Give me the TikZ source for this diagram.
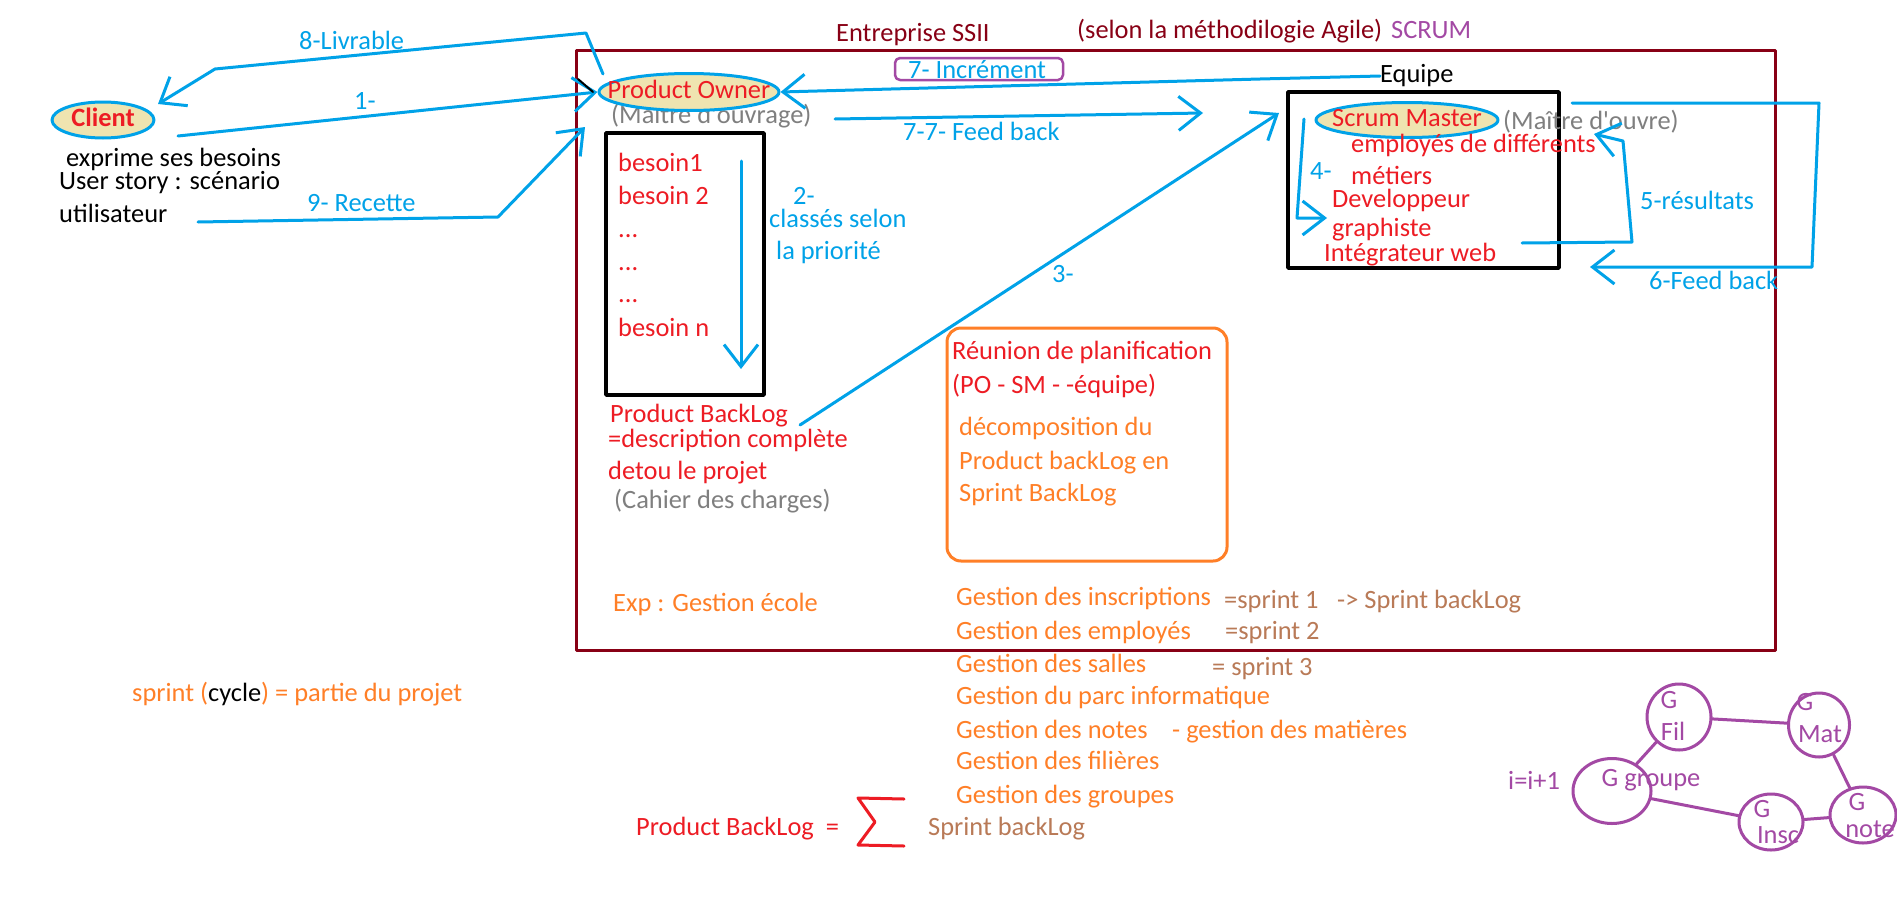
\documentclass[tikz,border=0pt]{standalone}
\usepackage{fontspec}
\setmainfont{Carlito}[Ligatures=TeXOff]
\usetikzlibrary{arrows.meta,shapes.geometric}
\definecolor{pblue}{HTML}{00A2E8}
\definecolor{pred}{HTML}{ED1C24}
\definecolor{dred}{HTML}{880015}
\definecolor{ppurple}{HTML}{A349A4}
\definecolor{porange}{HTML}{FF7F27}
\definecolor{pbrown}{HTML}{B97A57}
\definecolor{pgrey}{HTML}{7F7F7F}
\definecolor{beige}{HTML}{EFE4B0}
\newcommand\fs{\fontsize{26.4}{31}\selectfont}
\begin{document}
\begin{tikzpicture}[x=1pt,y=-1pt,line join=round,line cap=round,
  t/.style={inner sep=0pt,anchor=west,text height=18pt,text depth=5pt,font=\fs},
  tc/.style={inner sep=0pt,text height=18pt,text depth=5pt,font=\fs},
  ell/.style={ellipse,draw=pblue,fill=beige,line width=3pt,inner sep=0pt},
  arr/.style={draw=pblue,line width=3pt,-{Straight Barb[length=22pt,width=34pt]}},
  boxnode/.style={draw=black,line width=3.5pt,inner sep=0pt},
  gc/.style={ellipse,draw=ppurple,line width=3pt,inner sep=0pt},
  gt/.style={inner sep=0pt,text height=18pt,text depth=5pt,font=\fs,text=ppurple},
  ge/.style={draw=ppurple,line width=3pt}]
\fill[white] (0,0) rectangle (1897,918);
\useasboundingbox (0,0) rectangle (1897,918);

% big company frame
\node[draw=dred,line width=3pt,minimum width=1199pt,minimum height=600pt,inner sep=0pt] (ssii) at (1175.5,350) {};
\node[t,text=dred] (ent) at (836,35) {Entreprise SSII};
\node[t,text=dred] (selon) at (1077,32) {(selon la méthodilogie Agile)};
\node[t,text=ppurple] (scrum) at (1391,32) {SCRUM};

% client
\node[ell,minimum width=102pt,minimum height=36pt] (client) at (103,120) {};
\node[tc,text=pred] (clientt) at (client.center) {\bfseries Client};
\node[t] (expr) at (66,160) {exprime ses besoins};
\node[t] (us) at (59,183) {User story : scénario};
\node[t] (util) at (59,216) {utilisateur};

% product owner
\node[t,text=pgrey] (moa) at (611,117) {(Maître d'ouvrage)};
\node[ell,minimum width=180pt,minimum height=37pt] (po) at (689,92) {};
\node[tc,text=pred] (pot) at (po.center) {Product Owner};

% product backlog box
\node[boxnode,minimum width=158pt,minimum height=262pt] (pb) at (685,264) {};
\node[t,text=pred] (b1) at (618,165) {besoin1};
\node[t,text=pred] (b2) at (618,198) {besoin 2};
\node[t,text=pred] (d1) at (618,231) {...};
\node[t,text=pred] (d2) at (618,264) {...};
\node[t,text=pred] (d3) at (618,296) {...};
\node[t,text=pred] (bn) at (618,330) {besoin n};
\node[t,text=pred] (pbl) at (610,416) {Product BackLog};
\node[t,text=pred] (desc) at (608,441) {=description complète};
\node[t,text=pred] (detou) at (608,473) {detou le projet};
\node[t,text=pgrey] (cdc) at (614,502) {(Cahier des charges)};
\node[t,text=pblue] (l2) at (793,198) {2-};
\node[t,text=pblue] (cl) at (769,221) {classés selon};
\node[t,text=pblue] (prio) at (776,253) {la priorité};

% increment box and team
\node[draw=ppurple,line width=2.5pt,rounded corners=5pt,minimum width=168pt,minimum height=22pt,inner sep=0pt] (incr) at (979,69) {};
\node[t,text=pblue] (incrt) at (908,72) {7- Incrément};
\node[t] (equipe) at (1380,76) {Equipe};
\node[t,text=pblue] (fb77) at (903,134) {7-7- Feed back};
\node[t,text=pblue] (l3) at (1052,276) {3-};

\node[boxnode,minimum width=271pt,minimum height=176pt] (team) at (1423.5,180) {};
\node[t,text=pgrey] (moe) at (1503,123) {(Maître d'ouvre)};
\node[ell,minimum width=182pt,minimum height=35pt] (sm) at (1407,120) {};
\node[tc,text=pred] (smt) at (sm.center) {Scrum Master};
\node[t,text=pred] (emp) at (1351,146) {employés de différents};
\node[t,text=pred] (met) at (1351,178) {métiers};
\node[t,text=pred] (dev) at (1332,201) {Developpeur};
\node[t,text=pred] (gra) at (1332,230) {graphiste};
\node[t,text=pred] (integ) at (1324,255) {Intégrateur web};
\node[t,text=pblue] (l4) at (1310,173) {4-};
\node[t,text=pblue] (l5) at (1640,203) {5-résultats};
\node[t,text=pblue] (l6) at (1649,283) {6-Feed back};

% planning meeting
\node[draw=porange,line width=3pt,rounded corners=14pt,minimum width=280pt,minimum height=233pt,inner sep=0pt] (reunion) at (1087,444.5) {};
\node[t,text=pred] (r1) at (952,353) {Réunion de planification};
\node[t,text=pred] (r2) at (952,387) {(PO - SM - -équipe)};
\node[t,text=porange] (r3) at (959,429) {décomposition du};
\node[t,text=porange] (r4) at (959,463) {Product backLog en};
\node[t,text=porange] (r5) at (959,495) {Sprint BackLog};

% example
\node[t,text=porange] (exp) at (613,605) {Exp : Gestion école};
\node[t,text=porange] (g1) at (956,599) {Gestion des inscriptions};
\node[t,text=porange] (g2) at (956,633) {Gestion des employés};
\node[t,text=porange] (g3) at (956,666) {Gestion des salles};
\node[t,text=porange] (g4) at (956,698) {Gestion du parc informatique};
\node[t,text=porange] (g5) at (956,732) {Gestion des notes};
\node[t,text=porange] (g6) at (956,763) {Gestion des filières};
\node[t,text=porange] (g7) at (956,797) {Gestion des groupes};
\node[t,text=pbrown] (s1) at (1224,602) {=sprint 1};
\node[t,text=pbrown] (sb) at (1337,602) {-> Sprint backLog};
\node[t,text=pbrown] (s2) at (1225,633) {=sprint 2};
\node[t,text=pbrown] (s3) at (1212,669) {= sprint 3};
\node[t,text=porange] (gm) at (1172,732) {- gestion des matières};

\node[t,text=porange] (cyc) at (132,695) {sprint (\textcolor{black}{cycle}) = partie du projet};
\node[t,text=pred] (pbeq) at (636,829) {Product BackLog\ \ =};
\draw[pred,line width=3pt] (904,799) -- (858,798) -- (875,822) -- (858,845) -- (904,846);
\node[t,text=pbrown] (sbl) at (928,829) {Sprint backLog};

% connectors
\coordinate (c8s) at (603,74);
\coordinate (c8a) at (586,33);
\coordinate (c8b) at (215,69);
\coordinate (c8e) at (158,104);
\draw[arr] (c8s) -- (c8a) -- (c8b) -- (c8e);
\node[t,text=pblue] (l8) at (299,43) {8-Livrable};

\coordinate (c1s) at (178,136);
\draw[arr] (c1s) -- (po.west);
\node[t,text=pblue] (l1) at (354,103) {1-};
\draw[black,line width=2pt] (578,79) -- (593,92);

\coordinate (c9s) at (198,222);
\coordinate (c9a) at (498,217);
\coordinate (c9e) at (585,127);
\draw[arr] (c9s) -- (c9a) -- (c9e);
\node[t,text=pblue] (l9) at (307,205) {9- Recette};

\coordinate (c7a) at (1260,79);
\draw[arr] (equipe.west) -- (c7a) -- (po.east);

\coordinate (c77s) at (835,119);
\coordinate (c77e) at (1203,113);
\draw[arr] (c77s) -- (c77e);

\coordinate (c3s) at (800,425);
\coordinate (c3e) at (1279,113);
\draw[arr] (c3s) -- (c3e);

\coordinate (c2s) at (741,161);
\coordinate (c2e) at (741,369);
\draw[arr] (c2s) -- (c2e);

\coordinate (c4s) at (1304,119);
\coordinate (c4a) at (1297,218);
\coordinate (c4e) at (1327,218);
\draw[arr] (c4s) -- (c4a) -- (c4e);

\coordinate (c5s) at (1522,243);
\coordinate (c5a) at (1632,242);
\coordinate (c5b) at (1623,141);
\coordinate (c5e) at (1594,134);
\draw[arr] (c5s) -- (c5a) -- (c5b) -- (c5e);

\coordinate (c6s) at (1572,103);
\coordinate (c6a) at (1819,103);
\coordinate (c6b) at (1812,267);
\coordinate (c6e) at (1590,267);
\draw[arr] (c6s) -- (c6a) -- (c6b) -- (c6e);

% module graph
\node[gc,minimum width=64pt,minimum height=66pt] (fil) at (1679,717) {};
\node[gc,minimum width=61pt,minimum height=64pt] (mat) at (1819,725) {};
\node[gc,minimum width=78pt,minimum height=65pt] (grp) at (1612,791) {};
\node[gc,minimum width=64pt,minimum height=56pt] (insc) at (1771,822) {};
\node[gc,minimum width=66pt,minimum height=56pt] (note) at (1863,815) {};
\draw[ge] (fil) -- (mat);
\draw[ge] (fil) -- (grp);
\draw[ge] (mat) -- (note);
\draw[ge] (grp) -- (insc);
\draw[ge] (insc) -- (note);
\node[gt] (tfil1) at (1669,702) {G};
\node[gt] (tfil2) at (1673,734) {Fil};
\node[gt] (tmat1) at (1805,704) {G};
\node[gt] (tmat2) at (1820,736) {Mat};
\node[gt] (tgrp) at (1651,780) {G groupe};
\node[gt] (tins1) at (1762,811) {G};
\node[gt] (tins2) at (1778,837) {Insc};
\node[gt] (tnot1) at (1857,804) {G};
\node[gt] (tnot2) at (1870,831) {note};
\node[t,text=ppurple] (inc) at (1508,783) {i=i+1};
\end{tikzpicture}
\end{document}
